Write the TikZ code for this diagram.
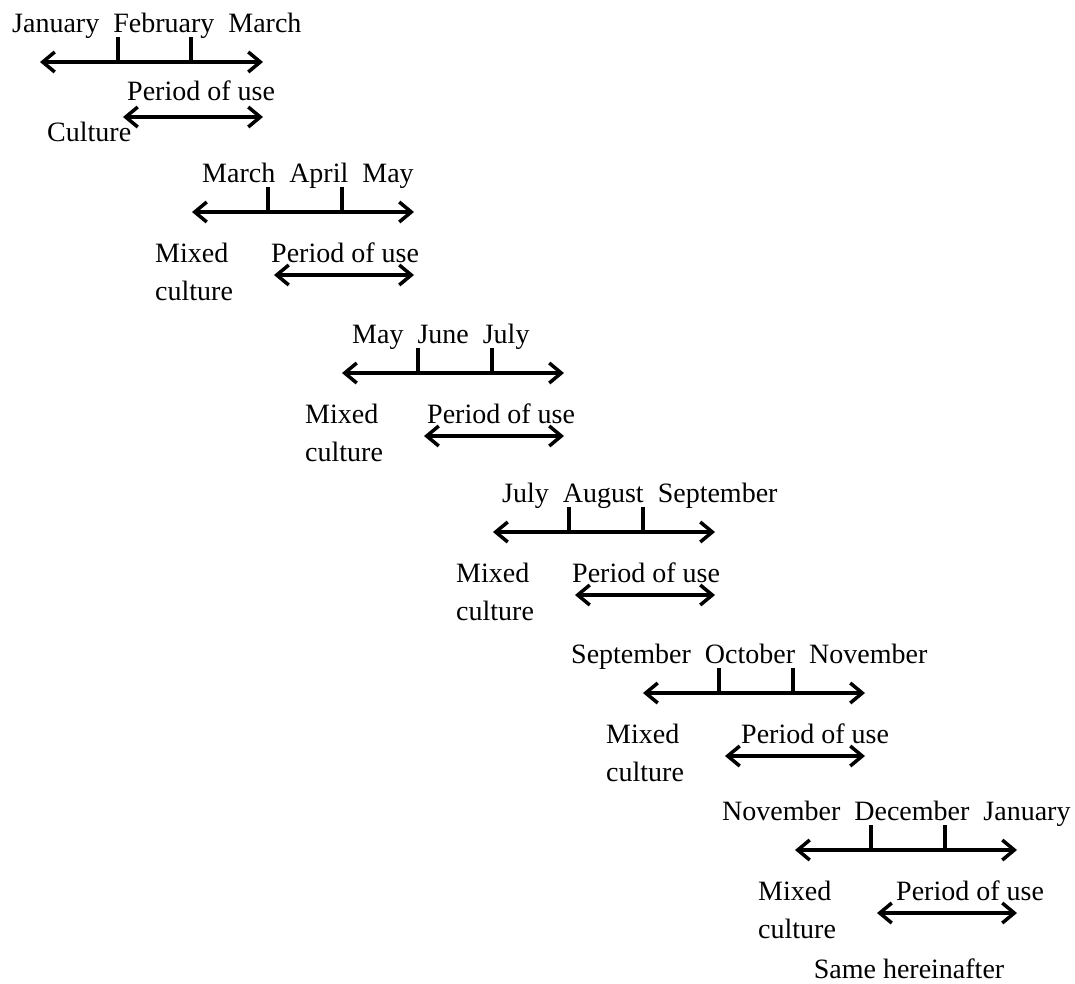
\documentclass[tikz,border=0pt]{standalone}
\usepackage{fontspec}
\setmainfont{Liberation Serif}
\usetikzlibrary{arrows.meta}
\newcommand{\gap}{\hspace{0.5em}}
\tikzset{
  barb/.tip={Straight Barb[length=12pt,width=20pt]},
  timeline/.style={line width=3.5pt, barb-barb},
  monthtick/.style={line width=3.5pt},
  lbl/.style={inner sep=0pt, anchor=base west, font=\fontsize{28}{38}\selectfont}
}
\begin{document}
\begin{tikzpicture}[x=1pt, y=-1pt]
  \useasboundingbox (0,0) rectangle (1075,983);
  % first block
  \coordinate (a1) at (40,62);
  \coordinate (b1) at (263,62);
  \draw [timeline] (a1) -- (b1);
  \draw [monthtick] (118,62) -- ++(0,-25);
  \draw [monthtick] (191,62) -- ++(0,-25);
  \node [lbl] (mon1) at (12,32) {January\gap February\gap March};
  \coordinate (c1) at (123,117);
  \coordinate (d1) at (263,117);
  \draw [timeline] (c1) -- (d1);
  \node [lbl] (use1) at (127,100) {Period of use};
  \node [lbl] (cult1) at (47,141) {Culture};
  % following blocks
  \foreach \i/\lx/\ly/\mon/\mo/\po in {
      2/192/212/{March\gap April\gap May}/10/79,
      3/342/373/{May\gap June\gap July}/10/85,
      4/493/532/{July\gap August\gap September}/9/79,
      5/643/693/{September\gap October\gap November}/-72/98,
      6/795/850/{November\gap December\gap January}/-73/101} {
    \coordinate (a\i) at (\lx,\ly);
    \coordinate (b\i) at ({\lx+222},\ly);
    \draw [timeline] (a\i) -- (b\i);
    \draw [monthtick] ({\lx+76},\ly) -- ++(0,-25);
    \draw [monthtick] ({\lx+150},\ly) -- ++(0,-25);
    \node [lbl] (mon\i) at ({\lx+\mo},{\ly-30}) {\mon};
    \coordinate (c\i) at ({\lx+82},{\ly+63});
    \coordinate (d\i) at ({\lx+222},{\ly+63});
    \draw [timeline] (c\i) -- (d\i);
    \node [lbl] (use\i) at ({\lx+\po},{\ly+50}) {Period of use};
    \node [lbl, align=left] (mix\i) at ({\lx-37},{\ly+88}) {Mixed\\culture};
  }
  \node [lbl, anchor=base] (same) at (909,978) {Same hereinafter};
\end{tikzpicture}
\end{document}
